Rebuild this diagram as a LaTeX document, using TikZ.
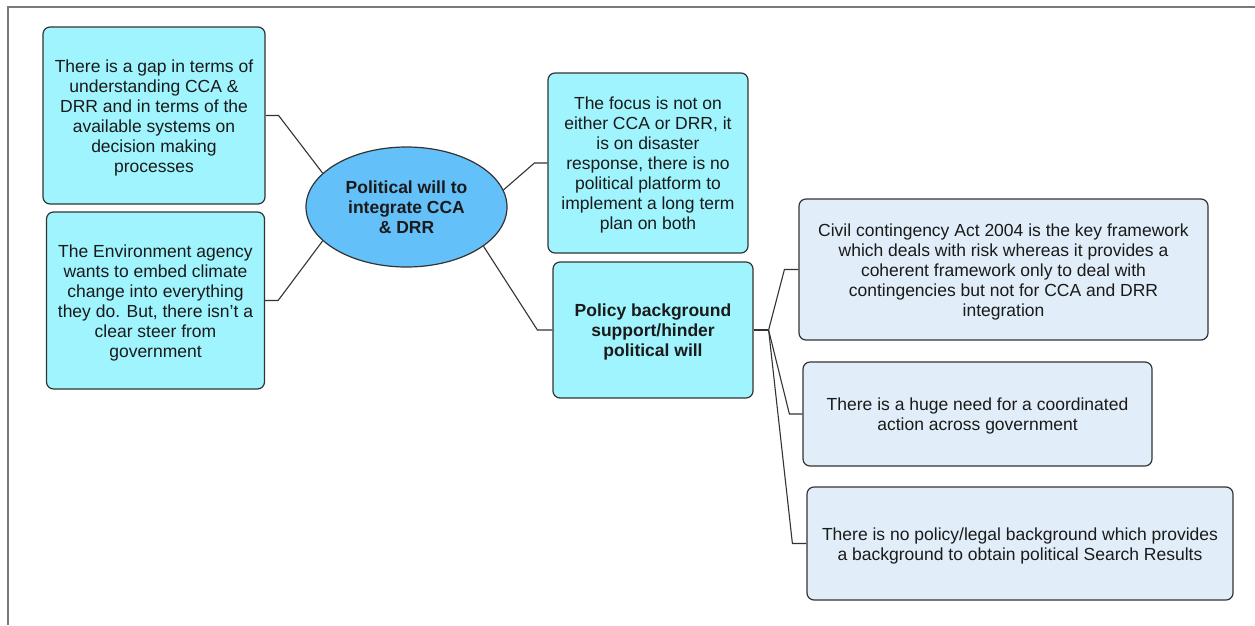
\documentclass[tikz,border=0pt]{standalone}
\usepackage{fontspec}
\setmainfont{Liberation Sans}
\usetikzlibrary{shapes.geometric}
\definecolor{cyanfill}{HTML}{A0F4FE}
\definecolor{hubfill}{HTML}{63C0F8}
\definecolor{palefill}{HTML}{E1EEF9}
\definecolor{edgegray}{HTML}{333333}
\definecolor{inkgray}{HTML}{1A1A1A}
\definecolor{framegray}{HTML}{7A7A7A}
% taller first line, so the text block sits at the optical centre of a card
\newcommand{\firstline}{\rule{0pt}{17pt}}
\begin{document}
\begin{tikzpicture}[x=1pt,y=-1pt,
  every node/.style={font=\fontsize{17.5}{20}\selectfont, text=inkgray, align=center, inner sep=0pt},
  card/.style={draw=edgegray, line width=1.2pt, rounded corners=7pt, rectangle},
  cyancard/.style={card, fill=cyanfill},
  palecard/.style={card, fill=palefill},
  hub/.style={ellipse, draw=edgegray, line width=1.2pt, fill=hubfill,
    minimum width=201pt, minimum height=120pt, font=\fontsize{17.5}{20}\selectfont\bfseries},
  link/.style={draw=edgegray, line width=1.1pt}]
\useasboundingbox (0,0) rectangle (1255,625);

% outer frame (top and left edges)
\draw[framegray, line width=2pt] (8,625) -- (8,7) -- (1255,7);

% central topic
\node[hub] (P) at (406.5,207) {Political will to\\integrate CCA\\\& DRR};

% left branches
\node[cyancard, minimum width=222pt, minimum height=177pt] (A) at (154,115.5)
  {\firstline There is a gap in terms of\\understanding CCA \&\\DRR and in terms of the\\available systems on\\decision making\\processes};
\node[cyancard, minimum width=218pt, minimum height=177pt] (B) at (155.5,300.5)
  {\firstline The Environment agency\\wants to embed climate\\change into everything\\they do. But, there isn’t a\\clear steer from\\government};

% right branches
\node[cyancard, minimum width=200pt, minimum height=180pt] (C) at (648,163)
  {\firstline The focus is not on\\either CCA or DRR, it\\is on disaster\\response, there is no\\political platform to\\implement a long term\\plan on both};
\node[cyancard, minimum width=200pt, minimum height=136pt, font=\fontsize{17.5}{20}\selectfont\bfseries] (D) at (653,330)
  {\firstline Policy background\\support/hinder\\political will};

% sub-branches of the policy node
\node[palecard, minimum width=409pt, minimum height=141pt] (E) at (1003.5,269.5)
  {\firstline Civil contingency Act 2004 is the key framework\\which deals with risk whereas it provides a\\coherent framework only to deal with\\contingencies but not for CCA and DRR\\integration};
\node[palecard, minimum width=349pt, minimum height=104pt] (F) at (977.5,414)
  {\firstline There is a huge need for a coordinated\\action across government};
\node[palecard, minimum width=426pt, minimum height=113pt] (G) at (1020,543.5)
  {\firstline There is no policy/legal background which provides\\a background to obtain political Search Results};

% connectors
\draw[link] (A.east) -- ++(13,0) -- (P.158);
\draw[link] (B.east) -- ++(13,0) -- (P.202);
\draw[link] (P.10) -- ([xshift=-13pt]C.west) -- (C.west);
\draw[link] (P.-27) -- ([xshift=-15pt]D.west) -- (D.west);
\draw[link] (D.east) -- ++(15,0) coordinate (J);
\draw[link] (J) -- ([xshift=-14pt]E.west) -- (E.west);
\draw[link] (J) -- ([xshift=-13pt]F.west) -- (F.west);
\draw[link] (J) -- ([xshift=-14pt]G.west) -- (G.west);
\end{tikzpicture}
\end{document}
